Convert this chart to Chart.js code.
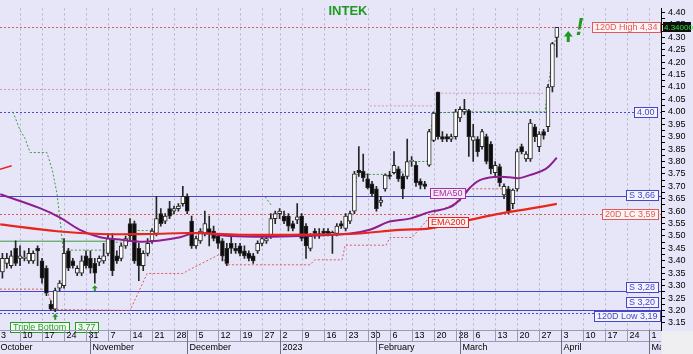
<!DOCTYPE html>
<html>
<head>
<meta charset="utf-8">
<script src="https://cdn.jsdelivr.net/npm/chart.js@4.4.0/dist/chart.umd.min.js"></script>
<style>
  html, body { margin: 0; padding: 0; background: #e6e6f8; }
  #wrap { width: 693px; height: 354px; }
</style>
</head>
<body>
<div id="wrap"><canvas id="chart" width="693" height="354"></canvas></div>
<script>
// daily candles, Oct 3 2022 (index 0) .. Mar 31 2023 (index 127), trading days only
const opens = [3.36,3.355,3.39,3.38,3.45,3.41,3.41,3.40,3.40,3.45,
  3.40,3.37,3.225,3.205,3.29,3.30,3.44,3.40,3.35,3.35,
  3.42,3.41,3.39,3.395,3.40,3.43,3.49,3.42,3.41,3.46,
  3.55,3.55,3.45,3.38,3.43,3.48,3.51,3.59,3.56,3.61,
  3.60,3.61,3.63,3.66,3.56,3.46,3.48,3.51,3.53,3.52,
  3.50,3.48,3.45,3.47,3.45,3.46,3.44,3.43,3.42,3.44,
  3.47,3.48,3.50,3.57,3.59,3.58,3.58,3.55,3.565,3.58,
  3.54,3.45,3.52,3.51,3.52,3.52,3.505,3.51,3.55,3.53,
  3.56,3.60,3.765,3.76,3.73,3.71,3.69,3.635,3.69,3.745,
  3.755,3.77,3.74,3.74,3.80,3.785,3.72,3.71,3.785,3.885,
  4.08,3.90,3.90,3.89,3.90,3.975,4.00,4.005,3.885,3.89,
  3.86,3.90,3.87,3.755,3.78,3.665,3.69,3.63,3.69,3.86,
  3.81,3.81,3.94,3.86,3.92,3.94,4.10,4.30];
const highs = [3.40,3.43,3.43,3.44,3.48,3.46,3.44,3.45,3.44,3.46,
  3.41,3.38,3.24,3.29,3.32,3.49,3.45,3.41,3.38,3.42,
  3.44,3.44,3.41,3.42,3.47,3.51,3.51,3.44,3.47,3.50,
  3.57,3.56,3.47,3.44,3.49,3.53,3.66,3.61,3.59,3.64,
  3.62,3.63,3.70,3.67,3.58,3.50,3.53,3.60,3.58,3.54,
  3.51,3.49,3.47,3.50,3.47,3.47,3.46,3.44,3.43,3.48,
  3.50,3.50,3.59,3.60,3.61,3.60,3.59,3.56,3.63,3.59,
  3.55,3.51,3.53,3.53,3.53,3.53,3.52,3.55,3.56,3.59,
  3.60,3.76,3.86,3.83,3.75,3.72,3.70,3.66,3.75,3.76,
  3.84,3.78,3.75,3.89,3.82,3.80,3.73,3.72,3.93,4.00,
  4.08,3.92,3.91,3.91,4.01,4.02,4.05,4.01,3.95,3.90,
  3.93,3.91,3.88,3.80,3.79,3.71,3.70,3.69,3.85,3.87,
  3.84,3.97,3.95,3.92,3.93,4.11,4.28,4.34];
const lows = [3.33,3.33,3.37,3.37,3.38,3.38,3.40,3.39,3.39,3.38,
  3.31,3.26,3.20,3.195,3.28,3.29,3.36,3.37,3.34,3.34,
  3.37,3.35,3.31,3.38,3.39,3.42,3.34,3.39,3.40,3.45,
  3.48,3.39,3.32,3.36,3.42,3.47,3.50,3.54,3.55,3.57,
  3.59,3.60,3.62,3.59,3.45,3.45,3.47,3.50,3.46,3.48,
  3.45,3.40,3.38,3.43,3.43,3.42,3.41,3.40,3.39,3.43,
  3.46,3.47,3.49,3.55,3.57,3.55,3.52,3.52,3.55,3.48,
  3.41,3.44,3.49,3.49,3.50,3.50,3.43,3.50,3.53,3.52,
  3.55,3.59,3.74,3.72,3.69,3.66,3.60,3.62,3.68,3.73,
  3.75,3.72,3.65,3.73,3.78,3.70,3.69,3.69,3.78,3.88,
  3.89,3.88,3.88,3.88,3.89,3.96,3.99,3.82,3.80,3.82,
  3.85,3.79,3.75,3.74,3.70,3.65,3.59,3.61,3.68,3.83,
  3.80,3.80,3.88,3.84,3.89,3.92,4.08,4.22];
const closes = [3.38,3.41,3.41,3.42,3.39,3.42,3.415,3.43,3.43,3.44,
  3.33,3.27,3.205,3.28,3.31,3.43,3.37,3.38,3.37,3.40,
  3.38,3.37,3.35,3.41,3.42,3.49,3.36,3.40,3.46,3.49,
  3.50,3.40,3.38,3.43,3.47,3.52,3.57,3.55,3.58,3.58,
  3.61,3.62,3.66,3.60,3.46,3.49,3.52,3.55,3.51,3.49,
  3.47,3.42,3.39,3.45,3.44,3.43,3.42,3.41,3.40,3.47,
  3.49,3.49,3.57,3.59,3.60,3.56,3.54,3.53,3.577,3.49,
  3.46,3.50,3.51,3.50,3.51,3.51,3.515,3.54,3.54,3.58,
  3.59,3.75,3.755,3.735,3.695,3.67,3.61,3.645,3.745,3.74,
  3.785,3.73,3.69,3.80,3.805,3.715,3.705,3.70,3.92,3.995,
  3.90,3.89,3.89,3.90,4.00,4.01,4.01,3.90,3.90,3.84,
  3.92,3.80,3.77,3.785,3.715,3.70,3.60,3.685,3.84,3.84,
  3.83,3.955,3.90,3.91,3.905,4.10,4.275,4.34];

// x axis: first trading day of each week and first day of each month
const weekLabels = ['3','10','17','24','31','7','14','21','28','5','12','19','27','2','9','16','23','30','6','13','20','28','6','13','20','27','3','10','17','24','1'];
const weekIdx = [0,5,10,15,20,25,30,35,40,45,50,55,60,64,69,74,79,84,89,94,99,104,108,113,118,123,128,133,138,143,148];
const monthNames = ['October','November','December','2023','February','March','April','May'];
const monthIdx = [0,21,43,64,86,105,128,148];

// y axis labels
const yLabels = [3.15,3.20,3.25,3.30,3.35,3.40,3.45,3.50,3.55,3.60,3.65,3.70,3.75,3.80,3.85,3.90,3.95,4.00,4.05,4.10,4.15,4.20,4.25,4.30,4.35,4.40];

// indicator lines (trading-day index, value)
const ema50Idx = [0.5,9.5,14,18.6,23.2,27.7,32.3,36.8,41.4,44.8,52.7,60.7,68.6,80,84.5,89,93.6,98.2,102.7,105.5,107.3,109.5,112.8,116.2,118.5,120.8,124.5,127];
const ema50Val = [3.668,3.612,3.575,3.525,3.495,3.486,3.477,3.482,3.495,3.512,3.50,3.497,3.50,3.51,3.525,3.558,3.57,3.597,3.616,3.656,3.695,3.725,3.738,3.737,3.733,3.745,3.77,3.815];
const ema200Idx = [0.5,14,23.2,34.5,43.6,55,66.4,80,91.4,98.2,107.3,114.1,120.9,127];
const ema200Val = [3.547,3.518,3.508,3.508,3.512,3.505,3.505,3.508,3.525,3.531,3.565,3.59,3.61,3.629];
const oldRedIdx = [0.45,3.1];
const oldRedVal = [3.769,3.783];

const stop1Idx = [3.4,5,6.1,7.3,11.1,12.3,13.4,14.3,14.8,24.8,25,29.6,30,35.7,42.0,42.7];
const stop1Val = [4.00,3.926,3.894,3.836,3.836,3.769,3.671,3.533,3.443,3.443,3.475,3.475,3.522,3.522,3.632,3.632];
const stop2Idx = [60.7,62.3];
const stop2Val = [3.658,3.619];
const stop3Idx = [80.7,81.6,89.1,92.5,93.6,97.5,98.9,107.3,124.3,125,127.05];
const stop3Val = [3.619,3.748,3.748,3.76,3.80,3.80,3.996,4.00,4.00,4.10,4.338];

const highStepIdx = [[0.45,84.5],[84.5,98.9],[99.8,123.9]];
const highStepVal = [[4.09,4.09],[4.024,4.024],[4.075,4.075]];

const lowTrailIdx = [0.45,11.1,12.5,30,33.9,42.0,43.6,50.9,51.8,70.9,72.0,78.2,78.9,88.2,89.1,94.1,98.9,105,106.6,114.8,115.9,116.8];
const lowTrailVal = [3.286,3.286,3.204,3.20,3.349,3.349,3.365,3.431,3.384,3.384,3.404,3.404,3.463,3.463,3.494,3.494,3.592,3.639,3.69,3.69,3.643,3.592];

const supportIdx = [0.45,24.8];
const supportVal = [3.479,3.479];

// right-hand level lines
const levelVals = [4.34,4.00,3.66,3.59,3.28,3.20,3.19];
const levelNames = ['120D High 4,34','4.00','S 3,66','20D LC 3,59','S 3,28','S 3,20','120D Low 3,19'];

const FONT = '"Liberation Sans", Arial, sans-serif';
const BLUE = '#4646c8';
const RED = '#e05a5a';
const GREEN = '#3c9c3c';

function pts(xs, ys) {
  return xs.map((v, i) => ({ x: v, y: ys[i] }));
}

const wickData = opens.map((o, i) => ({ x: i, y: [lows[i], highs[i]] }));
const bodyData = opens.map((o, i) => {
  let a = Math.min(o, closes[i]);
  let b = Math.max(o, closes[i]);
  if (b - a < 0.004) { const m = (a + b) / 2; a = m - 0.002; b = m + 0.002; }
  return { x: i, y: [a, b] };
});
const bodyColors = opens.map((o, i) => closes[i] >= o ? '#ffffff' : '#0c0c0c');

function dotted(data, color) {
  return { type: 'line', data: data, borderColor: color, borderWidth: 1, borderDash: [2, 2],
    pointRadius: 0, fill: false, order: 5 };
}

const datasets = [
  { type: 'bar', data: wickData, backgroundColor: '#262626', barThickness: 1, grouped: false, order: 2 },
  { type: 'bar', data: bodyData, backgroundColor: bodyColors, borderColor: '#262626', borderWidth: 1,
    borderSkipped: false, barThickness: 4, grouped: false, order: 1 },
  { type: 'line', data: pts(ema200Idx, ema200Val), borderColor: '#e8261e', borderWidth: 2.2,
    pointRadius: 0, tension: 0.4, order: 0 },
  { type: 'line', data: pts(ema50Idx, ema50Val), borderColor: '#8e1e8e', borderWidth: 2,
    pointRadius: 0, tension: 0.4, order: 0 },
  { type: 'line', data: pts(oldRedIdx, oldRedVal), borderColor: '#e8261e', borderWidth: 1.5,
    pointRadius: 0, order: 0 },
  { type: 'line', data: pts(supportIdx, supportVal), borderColor: GREEN, borderWidth: 1,
    pointRadius: 0, order: 5 },
  dotted(pts(stop1Idx, stop1Val), GREEN),
  dotted(pts(stop2Idx, stop2Val), GREEN),
  dotted(pts(stop3Idx, stop3Val), GREEN),
  dotted(pts(lowTrailIdx, lowTrailVal), RED),
];
highStepIdx.forEach((xs, k) => datasets.push(dotted(pts(xs, highStepVal[k]), '#e496a6')));

function labelBox(ctx, text, right, cy, color, bg) {
  ctx.font = '9px ' + FONT;
  const w = Math.ceil(ctx.measureText(text).width) + 5;
  const x = Math.round(right - w) + 0.5;
  const y = Math.round(cy - 5) + 0.5;
  ctx.fillStyle = bg;
  ctx.fillRect(x, y, w, 10);
  ctx.strokeStyle = color;
  ctx.lineWidth = 1;
  ctx.strokeRect(x, y, w, 10);
  ctx.fillStyle = color;
  ctx.textBaseline = 'middle';
  ctx.textAlign = 'left';
  ctx.fillText(text, x + 2.5, y + 5.5);
}

function upArrow(ctx, cx, top, w, h, shaft) {
  ctx.fillStyle = '#1f9a1f';
  ctx.beginPath();
  ctx.moveTo(cx, top);
  ctx.lineTo(cx + w / 2, top + h * 0.5);
  ctx.lineTo(cx + shaft / 2, top + h * 0.5);
  ctx.lineTo(cx + shaft / 2, top + h);
  ctx.lineTo(cx - shaft / 2, top + h);
  ctx.lineTo(cx - shaft / 2, top + h * 0.5);
  ctx.lineTo(cx - w / 2, top + h * 0.5);
  ctx.closePath();
  ctx.fill();
}

const decor = {
  id: 'decor',
  beforeDraw(chart) {
    const ctx = chart.ctx;
    ctx.save();
    ctx.fillStyle = '#e6e6f8';
    ctx.fillRect(0, 0, chart.width, chart.height);
    ctx.restore();
  },
  beforeDatasetsDraw(chart) {
    const { ctx, chartArea: a, scales: { x, y } } = chart;
    ctx.save();
    // weekly grid
    ctx.strokeStyle = '#b2b2cc';
    ctx.lineWidth = 1;
    ctx.setLineDash([2, 3]);
    weekIdx.forEach(d => {
      const px = Math.round(x.getPixelForValue(d)) + 0.5;
      if (px <= a.left || px >= a.right) return;
      ctx.beginPath(); ctx.moveTo(px, a.top); ctx.lineTo(px, a.bottom); ctx.stroke();
    });
    // level lines
    const styles = [[RED, true], ['#4a4ad8', true], [BLUE, false], [RED, true], [BLUE, false], [BLUE, false], ['#4a4ad8', true]];
    levelVals.forEach((v, k) => {
      const py = Math.round(y.getPixelForValue(v)) + 0.5;
      ctx.strokeStyle = styles[k][0];
      ctx.setLineDash(styles[k][1] ? [2, 2] : []);
      ctx.beginPath(); ctx.moveTo(a.left, py); ctx.lineTo(a.right, py); ctx.stroke();
    });
    ctx.restore();
  },
  afterDatasetsDraw(chart) {
    const { ctx, chartArea: a, scales: { x, y } } = chart;
    ctx.save();
    // title
    ctx.font = 'bold 13px ' + FONT;
    ctx.fillStyle = '#229a22';
    ctx.textAlign = 'center';
    ctx.textBaseline = 'middle';
    ctx.fillText('INTEK', 348, 11);

    // level labels
    const tone = [RED, BLUE, BLUE, RED, BLUE, BLUE, BLUE];
    const shift = [0, 0, -1, 0, -4, -8, 3];
    const right = [660, 657, 658, 658, 658, 658, 660];
    levelVals.forEach((v, k) => {
      const bg = tone[k] === RED ? '#fff4f4' : '#f4f4ff';
      labelBox(ctx, levelNames[k], right[k], y.getPixelForValue(v) + shift[k], tone[k], bg);
    });

    // EMA tags
    labelBox(ctx, 'EMA50', 465, y.getPixelForValue(3.675), '#a030a0', '#f6e8f6');
    labelBox(ctx, 'EMA200', 468, y.getPixelForValue(3.556), '#e02020', '#fff0f0');

    // pattern tags
    labelBox(ctx, 'Triple Bottom', 69, 326.5, '#2a9a2a', '#f2fff2');
    labelBox(ctx, '3,77', 98, 326.5, '#2a9a2a', '#eef8ee');

    // arrows
    upArrow(ctx, x.getPixelForValue(13), y.getPixelForValue(lows[13]) + 2, 6, 6, 2);
    upArrow(ctx, x.getPixelForValue(22), y.getPixelForValue(lows[22]) + 2, 6, 6, 2);
    upArrow(ctx, x.getPixelForValue(129.6), y.getPixelForValue(4.325), 9, 11, 3);
    ctx.font = 'italic bold 23px ' + FONT;
    ctx.fillStyle = '#1f9a1f';
    ctx.textAlign = 'center';
    ctx.textBaseline = 'alphabetic';
    ctx.fillText('!', x.getPixelForValue(132.2), y.getPixelForValue(4.31));

    // last price marker on the axis
    const lp = y.getPixelForValue(closes[closes.length - 1]);
    ctx.fillStyle = '#101010';
    ctx.fillRect(a.right + 2, Math.round(lp - 5), 28, 10);
    ctx.font = '8px ' + FONT;
    ctx.fillStyle = '#33dd33';
    ctx.textAlign = 'left';
    ctx.textBaseline = 'middle';
    ctx.fillText('4.34000', a.right + 3, lp + 0.5);
    ctx.restore();
  },
  afterDraw(chart) {
    const { ctx, chartArea: a, scales: { x } } = chart;
    const top = a.bottom, mid = a.bottom + 11, bot = chart.height;
    ctx.save();
    ctx.fillStyle = '#efeff2';
    ctx.fillRect(a.right + 1, top + 1, chart.width - a.right, bot - top);
    ctx.beginPath();
    ctx.rect(0, top, a.right, bot - top);
    ctx.clip();
    ctx.strokeStyle = '#9a9ab4';
    ctx.lineWidth = 1;
    ctx.beginPath();
    ctx.moveTo(0, top + 0.5); ctx.lineTo(a.right, top + 0.5);
    ctx.moveTo(0, mid + 0.5); ctx.lineTo(a.right, mid + 0.5);
    ctx.stroke();
    ctx.font = '9px ' + FONT;
    ctx.fillStyle = '#000';
    ctx.textAlign = 'left';
    ctx.textBaseline = 'middle';
    weekIdx.forEach((d, k) => {
      const px = Math.round(x.getPixelForValue(d)) + 0.5;
      ctx.beginPath(); ctx.moveTo(px, top); ctx.lineTo(px, mid); ctx.stroke();
      ctx.fillText(weekLabels[k], Math.max(px + 2, 1), top + 6);
    });
    ctx.strokeStyle = '#6e6e88';
    monthIdx.forEach((d, k) => {
      const px = Math.round(x.getPixelForValue(d)) + 0.5;
      ctx.beginPath(); ctx.moveTo(px, top); ctx.lineTo(px, bot); ctx.stroke();
      ctx.fillText(monthNames[k], Math.max(px + 2, 0), mid + 7);
    });
    ctx.restore();
  }
};

new Chart(document.getElementById('chart'), {
  type: 'bar',
  data: { datasets: datasets },
  options: {
    responsive: false,
    devicePixelRatio: 1,
    animation: false,
    layout: { padding: 0 },
    plugins: { legend: { display: false }, tooltip: { enabled: false } },
    scales: {
      x: {
        type: 'linear',
        min: 0.45,
        max: 150.68,
        offset: false,
        grid: { display: false },
        border: { display: false },
        ticks: { display: false },
        afterFit: s => { s.height = 24; }
      },
      y: {
        position: 'right',
        min: 3.1214,
        max: 4.4165,
        afterBuildTicks: s => {
          const t = [];
          yLabels.forEach(v => { t.push({ value: v }); t.push({ value: v + 0.025 }); });
          s.ticks = t.filter(o => o.value <= 4.41);
        },
        ticks: {
          autoSkip: false,
          padding: 3,
          color: '#000',
          font: { size: 9, family: FONT },
          callback: v => yLabels.some(l => Math.abs(l - v) < 1e-6) ? v.toFixed(2) : ''
        },
        grid: { drawOnChartArea: false, tickLength: 4, color: '#000' },
        border: { color: '#000' },
        afterFit: s => { s.width = 32; }
      }
    }
  },
  plugins: [decor]
});
</script>
</body>
</html>
